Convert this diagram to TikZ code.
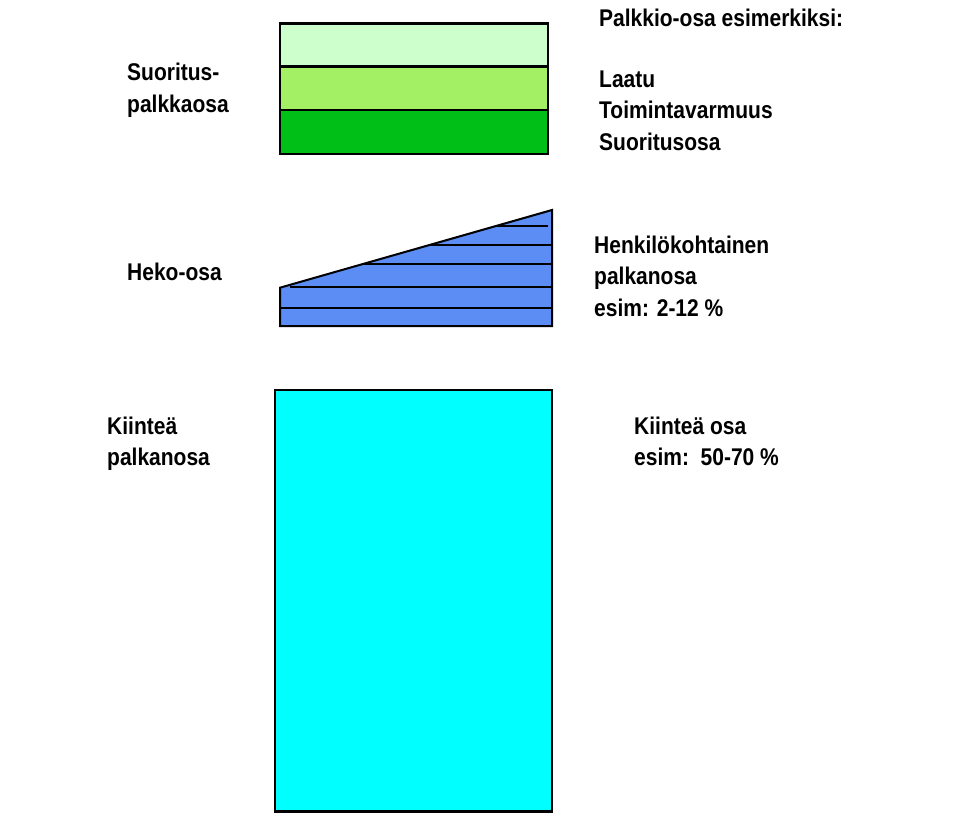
\documentclass[tikz,border=0pt]{standalone}
\usepackage{fontspec}
\setmainfont{Liberation Sans}
\definecolor{lgreen}{HTML}{CCFFCC}
\definecolor{mgreen}{HTML}{A4F064}
\definecolor{dgreen}{HTML}{00C018}
\definecolor{wblue}{HTML}{5B8DF5}
\definecolor{fcyan}{HTML}{00FFFF}
\newcommand{\tl}[1]{\scalebox{1}[1.15]{#1}}
\tikzset{
  box/.style={draw=black, line width=2.5pt},
  rule/.style={draw=black, line width=2pt},
  lbl/.style={anchor=base west, inner sep=0pt, align=left,
    font=\fontsize{21}{31.5}\selectfont\bfseries},
}
\begin{document}
\begin{tikzpicture}[x=1pt, y=-1pt]
\useasboundingbox (0,0) rectangle (962,819);
% green stack
\draw[box, fill=lgreen] (280,23.3) rectangle (548,66.7);
\draw[box, fill=mgreen] (280,66.7) rectangle (548,110);
\draw[box, fill=dgreen] (280,110) rectangle (548,154);
% wedge
\draw[box, line width=2pt, fill=wblue, line join=miter] (280,326) -- (280,287.7) -- (552,210) -- (552,326) -- cycle;
\draw[rule] (280,308.3) -- (552,308.3);
\draw[rule] (290,286.7) -- (552,286.7);
\draw[rule] (363,264) -- (552,264);
\draw[rule] (430,245) -- (552,245);
\draw[rule] (497,225.7) -- (548,225.7);
% cyan
\draw[box, fill=fcyan] (275,390) rectangle (552,811.7);
% labels (anchor = baseline of last line)
\node[lbl] (suor) at (127,112.2) {\tl{Suoritus-}\\\tl{palkkaosa}};
\node[lbl] (heko) at (127,280) {\tl{Heko-osa}};
\node[lbl] (kiin) at (107,465.8) {\tl{Kiinteä}\\\tl{palkanosa}};
\node[lbl] (palk) at (599,26.7) {\tl{Palkkio-osa esimerkiksi:}};
\node[lbl] (laat) at (599,150.3) {\tl{Laatu}\\\tl{Toimintavarmuus}\\\tl{Suoritusosa}};
\node[lbl] (henk) at (594,316.3) {\tl{Henkilökohtainen}\\\tl{palkanosa}\\\tl{esim: 2-12 \%}};
\node[lbl] (kosa) at (634,465.8) {\tl{Kiinteä osa}\\\tl{esim:\ \ 50-70 \%}};
\end{tikzpicture}
\end{document}
